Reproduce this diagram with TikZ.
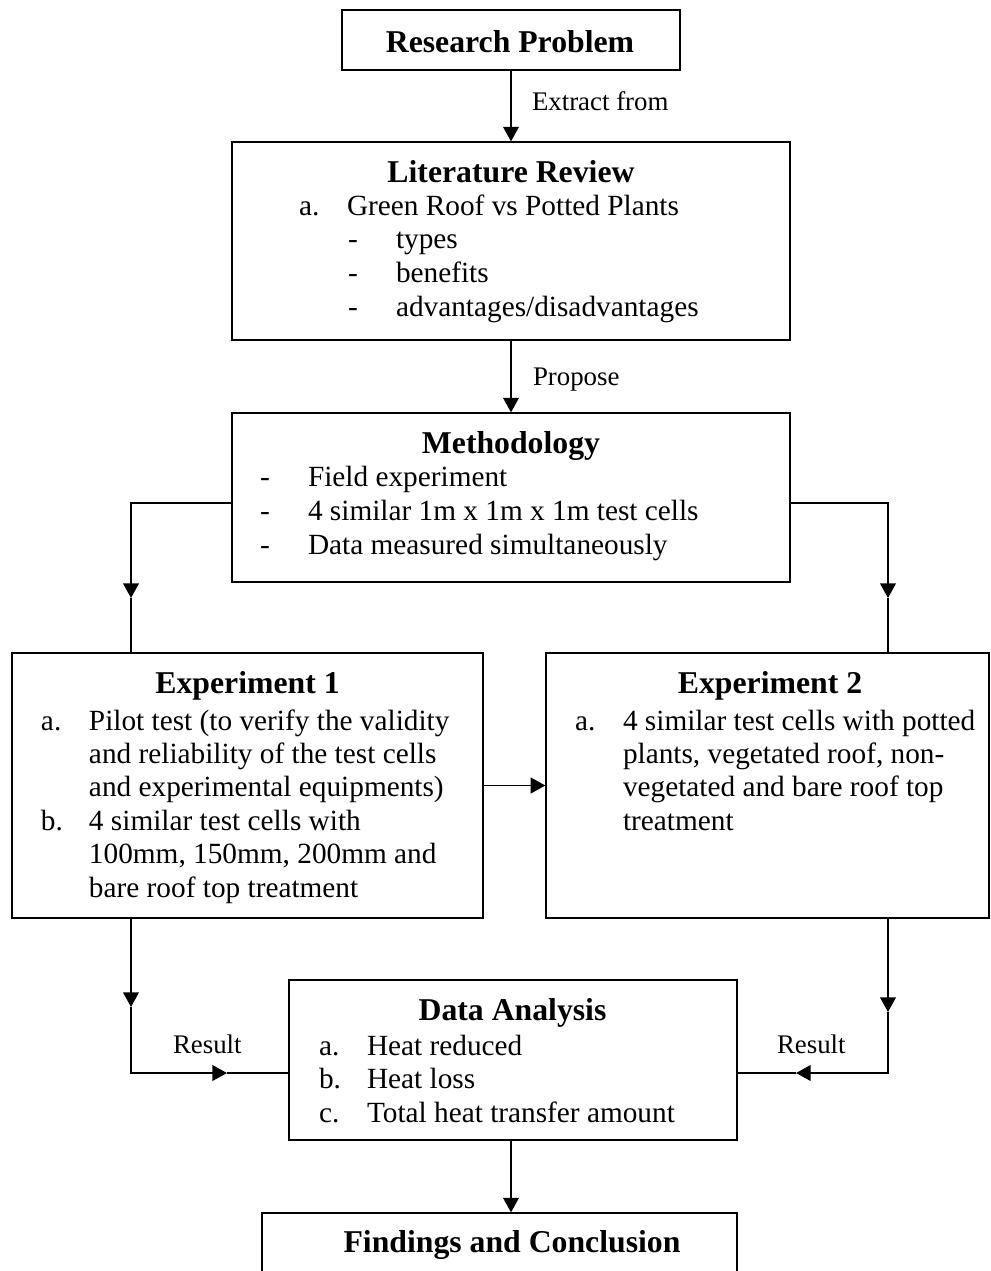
\documentclass[tikz,border=0pt]{standalone}
\usepackage{fontspec}
\setmainfont{Liberation Serif}
\usetikzlibrary{arrows.meta}
\def\u{0.4096pt}
\tikzset{
  boxst/.style={draw=black, line width=0.5pt, rectangle, inner sep=0pt, fill=none},
  txt/.style={inner sep=0pt, outer sep=0pt, font=\fontsize{12}{14}\selectfont},
  ttl/.style={inner sep=0pt, outer sep=0pt, anchor=base, font=\fontsize{13}{15}\selectfont\bfseries},
  lbl/.style={inner sep=0pt, outer sep=0pt, anchor=base west, font=\fontsize{11}{13}\selectfont},
  conn/.style={draw=black, line width=0.8pt},
  arr/.style={-{Triangle[length=6pt, width=6.4pt]}}
}
\newcommand\boxnode[5]{%
  \node[boxst, minimum width={(#4-#2)*\u}, minimum height={(#5-#3)*\u}] (#1) at ({(#2+#4)/2},{(#3+#5)/2}) {};}
\begin{document}
\begin{tikzpicture}[x=0.4096pt, y=-0.4096pt]
\clip (0,0) rectangle (991,1271);
\fill[white] (0,0) rectangle (991,1271);

% boxes
\boxnode{rp}{342}{10}{680}{70}
\boxnode{lit}{232}{142}{790}{340}
\boxnode{meth}{232}{413}{790}{582}
\boxnode{exp1}{12}{653}{483}{918}
\boxnode{exp2}{546}{653}{989}{918}
\boxnode{da}{289}{980}{737}{1140}
\boxnode{fc}{262}{1213}{737}{1320}

% titles
\node[ttl] (rpt) at (510,52) {Research Problem};
\node[ttl] (litt) at (511,182) {Literature Review};
\node[ttl] (metht) at (511,453) {Methodology};
\node[ttl] (exp1t) at (247.5,693) {Experiment 1};
\node[ttl] (exp2t) at (770,693) {Experiment 2};
\node[ttl] (dat) at (512.5,1020) {Data Analysis};
\node[ttl] (fct) at (512,1252) {Findings and Conclusion};

% literature review
\node[txt, anchor=base west] (lita) at (299,215) {a.};
\node[txt, anchor=base west] (lita1) at (347,215) {Green Roof vs Potted Plants};
\node[txt, anchor=base west] (litd1) at (348,248.5) {-};
\node[txt, anchor=base west] (litx1) at (396,248.5) {types};
\node[txt, anchor=base west] (litd2) at (348,282) {-};
\node[txt, anchor=base west] (litx2) at (396,282) {benefits};
\node[txt, anchor=base west] (litd3) at (348,316) {-};
\node[txt, anchor=base west] (litx3) at (396,316) {advantages/disadvantages};

% methodology
\node[txt, anchor=base west] (md1) at (260,486) {-};
\node[txt, anchor=base west] (mx1) at (308,486) {Field experiment};
\node[txt, anchor=base west] (md2) at (260,520) {-};
\node[txt, anchor=base west] (mx2) at (308,520) {4 similar 1m x 1m x 1m test cells};
\node[txt, anchor=base west] (md3) at (260,554) {-};
\node[txt, anchor=base west] (mx3) at (308,554) {Data measured simultaneously};

% experiment 1
\node[txt, anchor=base west] (e1a) at (41,730) {a.};
\node[txt, anchor=base west] (e1a1) at (89,730) {Pilot test (to verify the validity};
\node[txt, anchor=base west] (e1a2) at (89,763.4) {and reliability of the test cells};
\node[txt, anchor=base west] (e1a3) at (89,796.8) {and experimental equipments)};
\node[txt, anchor=base west] (e1b) at (41,830.2) {b.};
\node[txt, anchor=base west] (e1b1) at (89,830.2) {4 similar test cells with};
\node[txt, anchor=base west] (e1b2) at (89,863.6) {100mm, 150mm, 200mm and};
\node[txt, anchor=base west] (e1b3) at (89,897) {bare roof top treatment};

% experiment 2
\node[txt, anchor=base west] (e2a) at (575,730) {a.};
\node[txt, anchor=base west] (e2a1) at (623,730) {4 similar test cells with potted};
\node[txt, anchor=base west] (e2a2) at (623,763.4) {plants, vegetated roof, non-};
\node[txt, anchor=base west] (e2a3) at (623,796.8) {vegetated and bare roof top};
\node[txt, anchor=base west] (e2a4) at (623,830.2) {treatment};

% data analysis
\node[txt, anchor=base west] (daa) at (319,1055) {a.};
\node[txt, anchor=base west] (daa1) at (367,1055) {Heat reduced};
\node[txt, anchor=base west] (dab) at (319,1088.5) {b.};
\node[txt, anchor=base west] (dab1) at (367,1088.5) {Heat loss};
\node[txt, anchor=base west] (dac) at (319,1122) {c.};
\node[txt, anchor=base west] (dac1) at (367,1122) {Total heat transfer amount};

% labels
\node[lbl] (lx) at (532,110) {Extract from};
\node[lbl] (lp) at (533,385) {Propose};
\node[lbl] (lr1) at (173,1053) {Result};
\node[lbl] (lr2) at (777,1053) {Result};

% coordinates
\coordinate (c1) at (131,503);
\coordinate (a1) at (131,598);
\coordinate (c2) at (888,503);
\coordinate (a2) at (888,598);
\coordinate (a3) at (131,1007);
\coordinate (c3) at (131,1073);
\coordinate (a4) at (227,1073);
\coordinate (a5) at (888,1012);
\coordinate (c4) at (888,1073);
\coordinate (a6) at (796,1073);

% connectors
\draw[conn, arr] (lit.north |- rp.south) -- (lit.north);
\draw[conn, arr] (lit.south) -- (meth.north);
\draw[conn, arr] (meth.west |- c1) -- (c1) -- (a1);
\draw[conn] (a1) -- (exp1.north -| a1);
\draw[conn, arr] (meth.east |- c2) -- (c2) -- (a2);
\draw[conn] (a2) -- (exp2.north -| a2);
\draw[conn, arr] (exp1.east) -- (exp2.west);
\draw[conn, arr] (exp1.south -| a3) -- (a3);
\draw[conn, arr] (a3) -- (c3) -- (a4);
\draw[conn] (a4) -- (da.west |- a4);
\draw[conn, arr] (exp2.south -| a5) -- (a5);
\draw[conn, arr] (a5) -- (c4) -- (a6);
\draw[conn] (a6) -- (da.east |- a6);
\draw[conn, arr] (da.south -| lit.south) -- (fc.north -| lit.south);
\end{tikzpicture}
\end{document}
